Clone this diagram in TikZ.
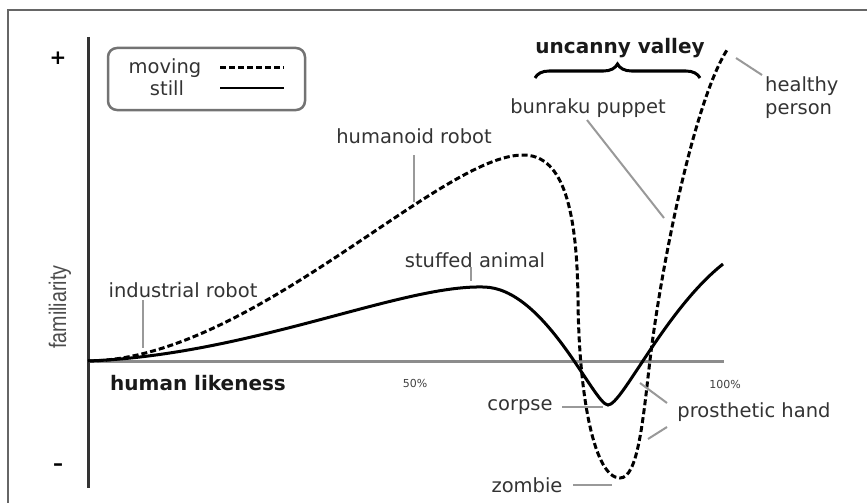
\documentclass[tikz,border=0pt]{standalone}
\usepackage{fontspec}
\setmainfont{DejaVu Sans}
\newfontfamily\narrowfont{Liberation Sans}
\usetikzlibrary{decorations.pathreplacing}
\tikzstyle{lbl}=[text=black!80,font=\fontsize{19.5}{23}\selectfont,inner sep=0pt]
\tikzstyle{boldlbl}=[text=black!90,font=\fontsize{20}{23}\selectfont\bfseries,inner sep=0pt]
\tikzstyle{ticklbl}=[text=black!75,font=\fontsize{11}{13}\selectfont,inner sep=0pt]
\tikzstyle{signlbl}=[font=\fontsize{20}{20}\selectfont\bfseries,inner sep=0pt]
\tikzstyle{leader}=[draw=black!40,line width=2pt]
\tikzstyle{moving}=[line width=3pt,dash pattern=on 6pt off 3pt]
\tikzstyle{still}=[line width=3pt]

\begin{document}
\begin{tikzpicture}[x=1pt,y=-1pt]
    \useasboundingbox (0,0) rectangle (867,503);
    \draw[black!60,line width=2pt] (8,503) -- (8,10) -- (867,10);

    % axes
    \draw[line width=3pt,black!80] (88,37) -- (88,488);
    \draw[line width=3pt,black!45] (88,361) -- (724,361);
    \node[signlbl] (plus) at (58,58) {+};
    \node[signlbl] (minus) at (58,467) {--};
    \node[rotate=90,text=black!70,inner sep=0pt] (fam) at (60,307) {\narrowfont\fontsize{24}{24}\selectfont\scalebox{0.82}[1]{familiarity}};
    \node[boldlbl,anchor=west] (hl) at (110,383) {human likeness};
    \node[ticklbl] (half) at (415,383) {50\%};
    \node[ticklbl] (full) at (725,384) {100\%};

    % legend
    \node[draw=black!55,line width=2.5pt,rounded corners=9pt,minimum width=197pt,minimum height=62pt] (legend) at (206.5,79) {};
    \node[lbl] (mov) at (165,68) {moving};
    \node[lbl] (sti) at (167,88) {still};
    \coordinate (m1) at (220,68); \coordinate (m2) at (284,68);
    \coordinate (s1) at (220,88); \coordinate (s2) at (284,88);
    \draw[moving] (m1) -- (m2);
    \draw[still,line width=1.5pt] (s1) -- (s2);

    % curves
    \draw[still] (88,361) .. controls (250,355) and (400,285) .. (483,287)
        .. controls (545,287) and (594,405) .. (608,405)
        .. controls (622,405) and (665,310) .. (723,264);
    \draw[moving] (88,361) .. controls (250,360) and (440,155) .. (523,155)
        .. controls (560,155) and (577,200) .. (578,300)
        .. controls (579,400) and (595,478) .. (620,478)
        .. controls (638,478) and (643,420) .. (650,360)
        .. controls (662,260) and (695,100) .. (727,50);

    % uncanny valley
    \node[boldlbl] (uv) at (620,48) {uncanny valley};
    \coordinate (b1) at (535,78); \coordinate (b2) at (700,78);
    \draw[line width=3pt,decorate,decoration={brace,amplitude=14pt}] (b1) -- (b2);

    % labels
    \node[lbl] (bunraku) at (588,108) {bunraku puppet};
    \node[lbl,anchor=west,align=left] (healthy) at (765,98) {healthy\\person};
    \node[lbl] (humanoid) at (414,136) {humanoid robot};
    \node[lbl] (stuffed) at (475,260) {stuffed animal};
    \node[lbl] (industrial) at (183,290) {industrial robot};
    \node[lbl] (corpse) at (520,407) {corpse};
    \node[lbl] (zombie) at (527,485) {zombie};
    \node[lbl] (prosthetic) at (754,412) {prosthetic hand};

    \coordinate (bp1) at (587,120); \coordinate (bp2) at (664,218);
    \coordinate (hp1) at (736,58);  \coordinate (hp2) at (762,75);
    \coordinate (hr1) at (414,155); \coordinate (hr2) at (414,202);
    \coordinate (sa1) at (471,267); \coordinate (sa2) at (471,281);
    \coordinate (ir1) at (143,300); \coordinate (ir2) at (143,348);
    \coordinate (co1) at (562,407); \coordinate (co2) at (603,407);
    \coordinate (zo1) at (573,485); \coordinate (zo2) at (612,485);
    \coordinate (ph1) at (640,383); \coordinate (ph2) at (667,403);
    \coordinate (ph3) at (648,439); \coordinate (ph4) at (667,427);

    \foreach \from/\to in {bp1/bp2,hp1/hp2,hr1/hr2,sa1/sa2,ir1/ir2,co1/co2,zo1/zo2,ph2/ph1,ph4/ph3}
    \draw[leader] (\from) -- (\to);
\end{tikzpicture}
\end{document}
